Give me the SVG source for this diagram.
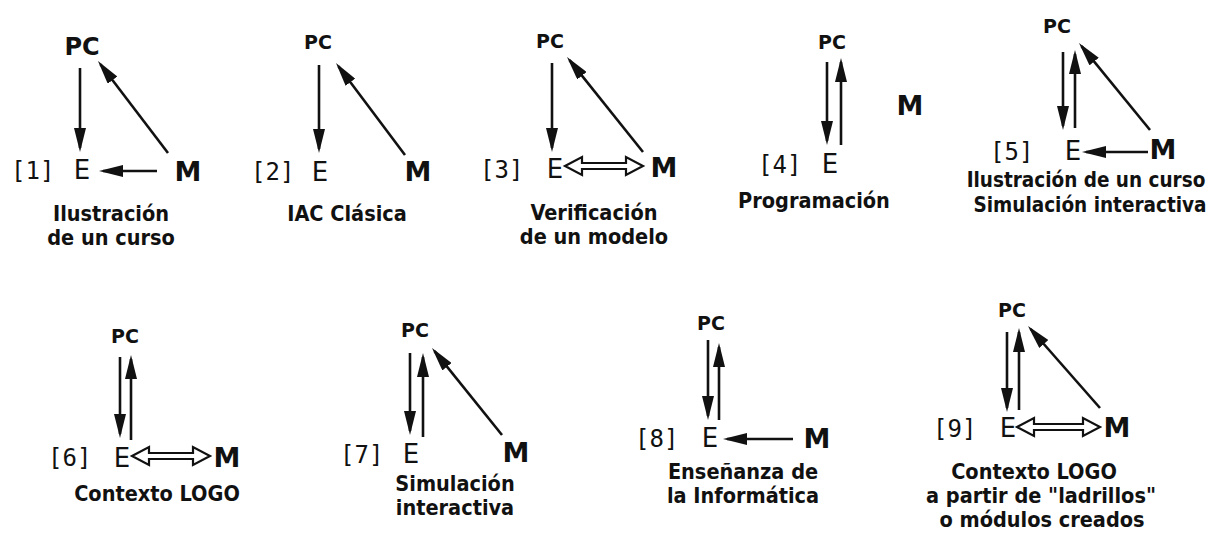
<svg xmlns="http://www.w3.org/2000/svg" width="1226" height="542" viewBox="0 0 1226 542">
<style>
.pc{font-family:"DejaVu Sans",sans-serif;font-weight:bold;font-size:19px;text-anchor:middle;fill:#111}
.e{font-family:"DejaVu Sans",sans-serif;font-size:26px;text-anchor:middle;fill:#111}
.m{font-family:"DejaVu Sans",sans-serif;font-weight:bold;font-size:27px;text-anchor:middle;fill:#111}
.n{font-family:"DejaVu Sans Mono",monospace;font-size:24px;fill:#111}
.cap{font-family:"DejaVu Sans Condensed","DejaVu Sans",sans-serif;font-stretch:condensed;font-weight:bold;font-size:21.5px;text-anchor:middle;fill:#111}
.ln{fill:none;stroke:#111;stroke-width:2.6;marker-end:url(#ah)}
.dbl{fill:#fff;stroke:#111;stroke-width:2.2;stroke-linejoin:miter}
</style>
<defs>
<marker id="ah" viewBox="0 0 24 12" refX="20" refY="6" markerWidth="24" markerHeight="12" markerUnits="userSpaceOnUse" orient="auto">
<path d="M0,0 L24,6 L0,12 Z" fill="#111"/>
</marker>
</defs>
<rect width="1226" height="542" fill="#fff"/>

<g id="diagram1">
<g id="d1-pc"><text class="pc" x="82" y="55" style="font-size:24px">PC</text></g>
<g id="d1-e"><text class="n" x="11" y="179">[1]</text><text class="e" x="82" y="179">E</text></g>
<g id="d1-m"><text class="m" x="188" y="181">M</text></g>
<g id="d1-caption"><text class="cap" x="111" y="221">Ilustración</text><text class="cap" x="111" y="245">de un curso</text></g>
</g>

<g id="diagram2">
<g id="d2-pc"><text class="pc" x="318" y="49">PC</text></g>
<g id="d2-e"><text class="n" x="251" y="180">[2]</text><text class="e" x="320" y="181">E</text></g>
<g id="d2-m"><text class="m" x="418" y="181">M</text></g>
<g id="d2-caption"><text class="cap" x="347" y="221">IAC Clásica</text></g>
</g>

<g id="diagram3">
<g id="d3-pc"><text class="pc" x="550" y="48">PC</text></g>
<g id="d3-e"><text class="n" x="480" y="178">[3]</text><text class="e" x="555" y="178">E</text></g>
<g id="d3-m"><text class="m" x="664" y="177">M</text></g>
<g id="d3-caption"><text class="cap" x="594" y="220">Verificación</text><text class="cap" x="594" y="244">de un modelo</text></g>
</g>

<g id="diagram4">
<g id="d4-pc"><text class="pc" x="832" y="49">PC</text></g>
<g id="d4-e"><text class="n" x="758" y="173">[4]</text><text class="e" x="830" y="173">E</text></g>
<g id="d4-m"><text class="m" x="910" y="115">M</text></g>
<g id="d4-caption"><text class="cap" x="814" y="208">Programación</text></g>
</g>

<g id="diagram5">
<g id="d5-pc"><text class="pc" x="1057" y="33">PC</text></g>
<g id="d5-e"><text class="n" x="990" y="160">[5]</text><text class="e" x="1073" y="160">E</text></g>
<g id="d5-m"><text class="m" x="1163" y="159">M</text></g>
<g id="d5-caption"><text class="cap" x="1086" y="187" style="font-size:20.5px">Ilustración de un curso</text><text class="cap" x="1090" y="212" style="font-size:20.5px">Simulación interactiva</text></g>
</g>

<g id="diagram6">
<g id="d6-pc"><text class="pc" x="125" y="343">PC</text></g>
<g id="d6-e"><text class="n" x="48" y="466">[6]</text><text class="e" x="122" y="467">E</text></g>
<g id="d6-m"><text class="m" x="227" y="467">M</text></g>
<g id="d6-caption"><text class="cap" x="157" y="501">Contexto LOGO</text></g>
</g>

<g id="diagram7">
<g id="d7-pc"><text class="pc" x="415" y="337">PC</text></g>
<g id="d7-e"><text class="n" x="340" y="463">[7]</text><text class="e" x="411" y="463">E</text></g>
<g id="d7-m"><text class="m" x="516" y="462">M</text></g>
<g id="d7-caption"><text class="cap" x="455" y="491">Simulación</text><text class="cap" x="455" y="515">interactiva</text></g>
</g>

<g id="diagram8">
<g id="d8-pc"><text class="pc" x="711" y="330">PC</text></g>
<g id="d8-e"><text class="n" x="635" y="447">[8]</text><text class="e" x="710" y="447">E</text></g>
<g id="d8-m"><text class="m" x="817" y="448">M</text></g>
<g id="d8-caption"><text class="cap" x="743" y="479">Enseñanza de</text><text class="cap" x="743" y="503">la Informática</text></g>
</g>

<g id="diagram9">
<g id="d9-pc"><text class="pc" x="1012" y="317">PC</text></g>
<g id="d9-e"><text class="n" x="933" y="437">[9]</text><text class="e" x="1008" y="437">E</text></g>
<g id="d9-m"><text class="m" x="1117" y="437">M</text></g>
<g id="d9-caption"><text class="cap" x="1034" y="479">Contexto LOGO</text><text class="cap" x="1041" y="503">a partir de "ladrillos"</text><text class="cap" x="1042" y="527">o módulos creados</text></g>
</g>

<g id="connectors">
<path class="ln" d="M80,68 V148"/>
<path class="ln" d="M168,153 L100.4,64.2"/>
<path class="ln" d="M157,171 H103"/>

<path class="ln" d="M319,65 V149"/>
<path class="ln" d="M405,155 L338.4,66.2"/>

<path class="ln" d="M552,63 V148"/>
<path class="ln" d="M643,152 L569.5,60.1"/>
<path class="dbl" d="M565,166 L582,157 L582,163 L626,163 L626,157 L643,166 L626,175 L626,169 L582,169 L582,175 Z"/>

<path class="ln" d="M827,62 V141"/>
<path class="ln" d="M841,145 V62"/>

<path class="ln" d="M1063,52 V126"/>
<path class="ln" d="M1075,128 V54"/>
<path class="ln" d="M1150,130 L1081.5,46.1"/>
<path class="ln" d="M1148,152 H1086"/>

<path class="ln" d="M120,357 V434"/>
<path class="ln" d="M131,440 V359"/>
<path class="dbl" d="M132,456 L149,447 L149,453 L193,453 L193,447 L210,456 L193,465 L193,459 L149,459 L149,465 Z"/>

<path class="ln" d="M410,353 V431"/>
<path class="ln" d="M423,437 V357"/>
<path class="ln" d="M502,435 L434.5,351.1"/>

<path class="ln" d="M708,340 V416"/>
<path class="ln" d="M719,420 V347"/>
<path class="ln" d="M793,439 H727"/>

<path class="ln" d="M1007,332 V408"/>
<path class="ln" d="M1019,410 V332"/>
<path class="ln" d="M1100,408 L1030.6,329"/>
<path class="dbl" d="M1017,427 L1034,418 L1034,424 L1083,424 L1083,418 L1100,427 L1083,436 L1083,430 L1034,430 L1034,436 Z"/>
</g>
</svg>
